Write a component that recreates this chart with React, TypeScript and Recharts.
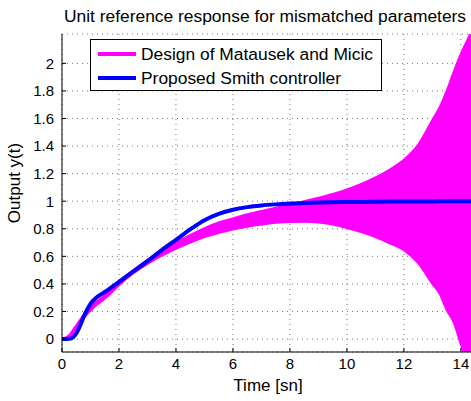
import React from 'react';
import {
  ComposedChart,
  Area,
  Line,
  XAxis,
  YAxis,
  CartesianGrid,
  Legend,
} from 'recharts';

// sample times [s]
const TIME = [
  0, 0.2, 0.3, 0.4, 0.5, 0.6, 0.7, 0.8, 0.9, 1.0, 1.1, 1.2, 1.3, 1.6, 2, 2.5, 3, 3.5, 4, 4.5, 5,
  5.5, 6, 6.5, 7, 7.5, 8, 8.5, 9, 9.5, 10, 10.5, 11, 11.5, 12, 12.5, 13, 13.25, 13.5, 13.75, 14,
  14.25, 14.46,
];

// Matausek & Micic: fast oscillation, drawn as its lower / upper envelope
const MATAUSEK_LOW = [
  0, 0.005, 0.02, 0.045, 0.075, 0.105, 0.135, 0.16, 0.185, 0.205, 0.225, 0.245, 0.26, 0.31, 0.39,
  0.475, 0.545, 0.605, 0.655, 0.7, 0.74, 0.77, 0.795, 0.815, 0.83, 0.843, 0.85, 0.851, 0.846, 0.83,
  0.806, 0.776, 0.74, 0.695, 0.645, 0.55, 0.4, 0.33, 0.21, 0.12, -0.04, -0.2, -0.32,
];
const MATAUSEK_HIGH = [
  0, 0.02, 0.04, 0.07, 0.1, 0.13, 0.16, 0.185, 0.21, 0.23, 0.25, 0.27, 0.285, 0.335, 0.415, 0.5,
  0.575, 0.64, 0.7, 0.755, 0.805, 0.845, 0.875, 0.905, 0.93, 0.953, 0.975, 1.0, 1.025, 1.052, 1.085,
  1.125, 1.172, 1.23, 1.3, 1.41, 1.59, 1.68, 1.8, 1.94, 2.07, 2.18, 2.28,
];

// proposed Smith controller
const SMITH = [
  0, 0, 0.003, 0.015, 0.04, 0.08, 0.13, 0.18, 0.22, 0.255, 0.28, 0.3, 0.315, 0.355, 0.415, 0.49,
  0.565, 0.645, 0.72, 0.795, 0.862, 0.908, 0.938, 0.957, 0.969, 0.977, 0.983, 0.987, 0.99, 0.992,
  0.994, 0.995, 0.996, 0.997, 0.997, 0.998, 0.998, 0.999, 0.999, 0.999, 1, 1, 1,
];

const X_TICKS = [0, 2, 4, 6, 8, 10, 12, 14];
const Y_TICKS = [0, 0.2, 0.4, 0.6, 0.8, 1, 1.2, 1.4, 1.6, 1.8, 2];

const SERIES = [
  { name: 'Design of Matausek and Micic', color: '#ff00ff' },
  { name: 'Proposed Smith controller', color: '#0000ff' },
];

const data = TIME.map((t, i) => ({
  t,
  band: [MATAUSEK_LOW[i], MATAUSEK_HIGH[i]],
  smith: SMITH[i],
}));

const FONT = '"Liberation Sans", Arial, Helvetica, sans-serif';

function LegendBox() {
  return (
    <div
      style={{
        width: 292,
        height: 52,
        boxSizing: 'border-box',
        border: '1px solid #000',
        background: '#fff',
        position: 'relative',
        fontFamily: FONT,
        fontSize: 17.4,
        color: '#000',
      }}
    >
      {SERIES.map((s, i) => (
        <div
          key={s.name}
          style={{
            position: 'absolute',
            left: 7,
            top: 3 + i * 24,
            height: 22,
            display: 'flex',
            alignItems: 'center',
            whiteSpace: 'nowrap',
          }}
        >
          <span style={{ display: 'inline-block', width: 38, height: 4, background: s.color, marginRight: 5 }} />
          <span>{s.name}</span>
        </div>
      ))}
    </div>
  );
}

export default function App() {
  const tickStyle = { fontSize: 15, fill: '#000', fontFamily: FONT };
  return (
    <div
      style={{
        position: 'absolute',
        left: 0,
        top: 0,
        width: 471,
        height: 401,
        overflow: 'hidden',
        background: '#fff',
      }}
    >
      <ComposedChart width={476} height={401} data={data} margin={{ top: 34, right: 2, bottom: 0, left: 0 }}>
        <CartesianGrid stroke="#777" strokeDasharray="1 4" />
        <XAxis
          dataKey="t"
          type="number"
          domain={[0, 14.46]}
          ticks={X_TICKS}
          height={49}
          tickSize={-4}
          tickMargin={10}
          tick={tickStyle}
          axisLine={{ stroke: '#000' }}
          tickLine={{ stroke: '#000' }}
          allowDataOverflow
        />
        <XAxis
          xAxisId="top"
          orientation="top"
          dataKey="t"
          type="number"
          domain={[0, 14.46]}
          ticks={X_TICKS}
          height={0}
          tickSize={-4}
          tick={false}
          axisLine={{ stroke: '#000' }}
          tickLine={{ stroke: '#000' }}
          allowDataOverflow
        />
        <YAxis
          type="number"
          domain={[-0.094, 2.213]}
          ticks={Y_TICKS}
          width={62}
          tickSize={-4}
          tickMargin={12}
          tick={tickStyle}
          axisLine={{ stroke: '#000' }}
          tickLine={{ stroke: '#000' }}
          allowDataOverflow
        />
        <Area
          dataKey="band"
          type="monotone"
          stroke="#ff00ff"
          strokeWidth={2}
          fill="#ff00ff"
          fillOpacity={1}
          isAnimationActive={false}
          dot={false}
          activeDot={false}
        />
        <Line
          dataKey="smith"
          type="monotone"
          stroke="#0000ff"
          strokeWidth={4}
          dot={false}
          activeDot={false}
          isAnimationActive={false}
        />
        <Legend
          layout="horizontal"
          verticalAlign="middle"
          align="center"
          content={() => <LegendBox />}
          wrapperStyle={{ left: 90, top: 39, width: 292, height: 52 }}
        />
      </ComposedChart>
      <svg
        width={471}
        height={401}
        style={{ position: 'absolute', left: 0, top: 0, pointerEvents: 'none' }}
        fontFamily={FONT}
      >
        <text x={265} y={22} textAnchor="middle" fontSize={17.4} fill="#000">
          Unit reference response for mismatched parameters
        </text>
        <text x={268} y={391} textAnchor="middle" fontSize={17} fill="#000">
          Time [sn]
        </text>
        <text transform="rotate(-90)" x={-183} y={20} textAnchor="middle" fontSize={17} fill="#000">
          Output y(t)
        </text>
      </svg>
    </div>
  );
}
